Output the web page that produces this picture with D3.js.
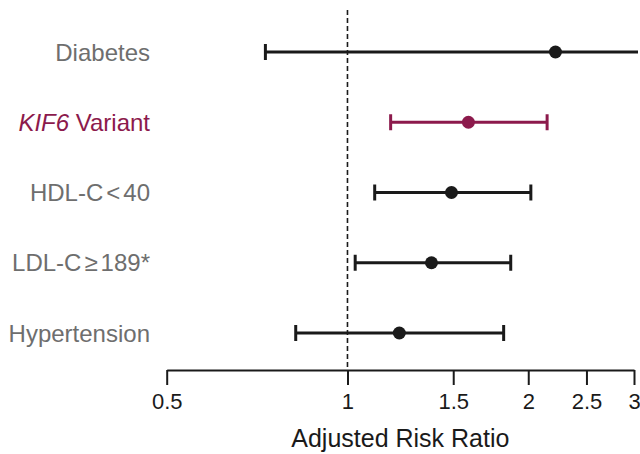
<!DOCTYPE html>
<html><head><meta charset="utf-8">
<script src="https://cdn.jsdelivr.net/npm/d3@7"></script>
<style>body{margin:0;background:#fff}svg{display:block}</style>
</head><body>
<svg id="c" width="640" height="454"></svg>
<script>
const categories = ["Diabetes", "KIF6 Variant", "HDL-C<40", "LDL-C\u2265189*", "Hypertension"];
const estimates = [2.22, 1.59, 1.49, 1.38, 1.22];
const lowerCI = [0.73, 1.18, 1.11, 1.03, 0.82];
const upperCI = [4.2, 2.15, 2.02, 1.87, 1.82];
const highlight = [false, true, false, false, false];
const tickValues = [0.5, 1, 1.5, 2, 2.5, 3];
const tickLabels = ["0.5", "1", "1.5", "2", "2.5", "3"];

const W = 640, H = 454;
const svg = d3.select("#c");
const font = "'Liberation Sans', Arial, Helvetica, sans-serif";
const black = "#1a1a1a", maroon = "#8c1a4c", gray = "#6e6e6e";

const x = d3.scaleLog().domain([0.5, 3]).range([166.7, 634]);
const y = d3.scalePoint().domain(categories).range([52, 333]);
const axisY = 370;

svg.append("defs").append("clipPath").attr("id", "clip")
  .append("rect").attr("x", 0).attr("y", 0).attr("width", W - 2).attr("height", H);

// reference line at 1
svg.append("line")
  .attr("x1", x(1)).attr("x2", x(1)).attr("y1", 10).attr("y2", axisY)
  .attr("stroke", black).attr("stroke-width", 1.6).attr("stroke-dasharray", "5,3");

const rows = categories.map((c, i) => ({c, est: estimates[i], lo: lowerCI[i], hi: upperCI[i], hl: highlight[i]}));
const g = svg.append("g").attr("clip-path", "url(#clip)");
const capH = 8;
rows.forEach(d => {
  const col = d.hl ? maroon : black;
  const yy = y(d.c);
  g.append("line").attr("x1", x(d.lo)).attr("x2", x(d.hi)).attr("y1", yy).attr("y2", yy)
    .attr("stroke", col).attr("stroke-width", 3);
  [d.lo, d.hi].forEach(v => {
    g.append("line").attr("x1", x(v)).attr("x2", x(v)).attr("y1", yy - capH).attr("y2", yy + capH)
      .attr("stroke", col).attr("stroke-width", 3);
  });
  g.append("circle").attr("cx", x(d.est)).attr("cy", yy).attr("r", 6.5).attr("fill", col);
});

// row labels
rows.forEach(d => {
  const t = svg.append("text").attr("x", 150).attr("y", y(d.c)).attr("dy", "0.36em")
    .attr("text-anchor", "end").attr("font-family", font).attr("font-size", 24)
    .attr("fill", d.hl ? maroon : gray);
  if (d.hl) {
    const parts = d.c.split(" ");
    t.append("tspan").attr("font-style", "italic").text(parts[0]);
    t.append("tspan").text(" " + parts.slice(1).join(" "));
  } else {
    const parts = d.c.split(/([<\u2265])/);
    parts.forEach(p => {
      if (p === "") return;
      const sp = t.append("tspan").text(p);
      if (p === "<" || p === "\u2265") sp.attr("dx", 3);
      else if (parts.indexOf(p) > 0) sp.attr("dx", 3);
    });
  }
});

// x axis
const axis = d3.axisBottom(x).tickValues(tickValues)
  .tickFormat((v, i) => tickLabels[i]).tickSize(15).tickSizeOuter(0).tickPadding(8);
const ag = svg.append("g").attr("transform", `translate(0,${axisY})`).call(axis);
ag.select(".domain").attr("stroke", black).attr("stroke-width", 2);
ag.selectAll(".tick line").attr("stroke", black).attr("stroke-width", 2);
ag.selectAll(".tick text").attr("font-family", font).attr("font-size", 22).attr("fill", black);

svg.append("text").attr("x", (x(0.5) + x(3)) / 2).attr("y", 447)
  .attr("text-anchor", "middle").attr("font-family", font).attr("font-size", 25)
  .attr("fill", black).text("Adjusted Risk Ratio");
</script>
</body></html>
